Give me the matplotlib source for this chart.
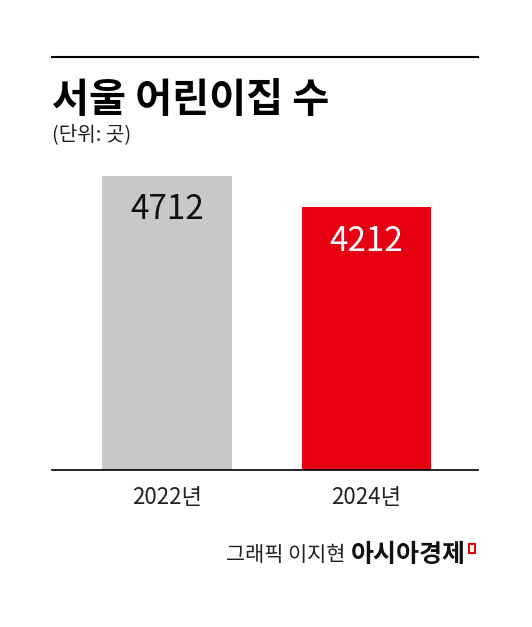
import matplotlib
matplotlib.use("Agg")
import matplotlib.pyplot as plt
from matplotlib.patches import Rectangle

plt.rcParams['font.family'] = ['Noto Sans CJK KR', 'DejaVu Sans']

categories = ["2022년", "2024년"]
values = [4712, 4212]
colors = ["#c8c8c8", "#e60012"]
text_colors = ["#111111", "#ffffff"]

W, H = 532, 627
fig = plt.figure(figsize=(W/100, H/100), dpi=100)
L, R, B, T = 52, 478, 470, 57
ax = fig.add_axes([L/W, 1-B/H, (R-L)/W, (B-T)/H])
ax.bar(range(len(values)), values, width=0.65, color=colors)
ax.set_xlim(-0.576, 1.559)
ax.set_ylim(0, 4712*(B-T)/294)
for s in ax.spines.values():
    s.set_visible(False)
ax.set_xticks([]); ax.set_yticks([])
for i, v in enumerate(values):
    ax.text(i, v - 34*(4712/294), f"{v}", ha='center', va='center', fontsize=24, color=text_colors[i])
    ax.text(i, -27*(4712/294), categories[i], ha='center', va='center', fontsize=16, color='#222222', clip_on=False)

fig.add_artist(plt.Line2D([L/W, R/W], [1-57/H]*2, color='black', lw=1.5))
fig.add_artist(plt.Line2D([L/W, R/W], [1-470/H]*2, color='black', lw=1.2))
fig.text(52/W, 1-100/H, "서울 어린이집 수", fontsize=29, fontweight='bold', va='center', ha='left')
fig.text(52/W, 1-135/H, "(단위: 곳)", fontsize=14.5, va='center', ha='left', color='#222222')
fig.text(345/W, 1-555/H, "그래픽 이지현", fontsize=15, va='center', ha='right', color='#222222')
fig.text(466/W, 1-555/H, "아시아경제", fontsize=18, fontweight='bold', va='center', ha='right', color='#111111')
fig.add_artist(Rectangle((469/W, 1-553/H), 6/W, 9/H, transform=fig.transFigure, fill=False, edgecolor='#e60012', lw=1.5))
fig.savefig("out.png", dpi=100)
